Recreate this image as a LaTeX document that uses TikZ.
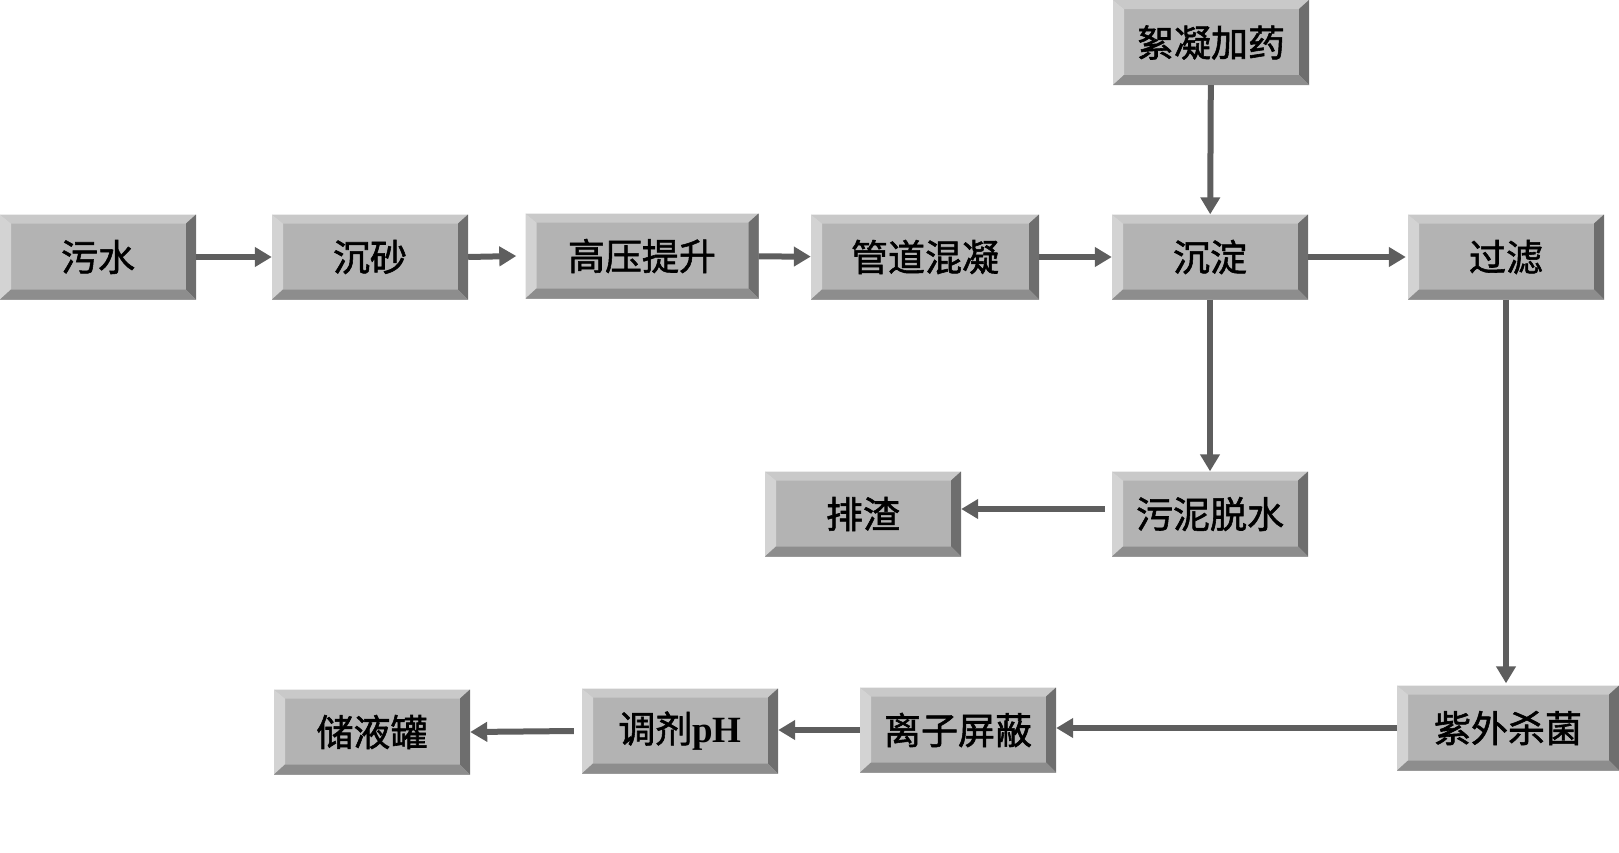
\documentclass[tikz,border=0pt]{standalone}
\usepackage{fontspec}
\usepackage{xcolor}
\usetikzlibrary{arrows.meta}
\newfontfamily\cjk{Noto Sans CJK SC}[FakeBold=1.5]
\newfontfamily\tnr{Liberation Serif}
\definecolor{faceGray}{HTML}{B3B3B3}
\definecolor{bevTop}{HTML}{C9C9C9}
\definecolor{bevLeft}{HTML}{D3D3D3}
\definecolor{bevRight}{HTML}{6E6E6E}
\definecolor{bevBottom}{HTML}{8D8D8D}
\definecolor{arrowGray}{HTML}{5E5E5E}

\begin{document}
\begin{tikzpicture}[x=1pt,y=-1pt]
        \tikzset{unit/.style={rectangle,
                    fill=faceGray,
                    minimum width=196pt,
                    minimum height=85pt,
                    inner sep=0pt,
                    align=center, font=\cjk\fontsize{37}{40}\selectfont,
                    path picture={
                      \coordinate (nw) at (path picture bounding box.north west);
                      \coordinate (ne) at (path picture bounding box.north east);
                      \coordinate (sw) at (path picture bounding box.south west);
                      \coordinate (se) at (path picture bounding box.south east);
                      \fill[bevTop] (nw) -- (ne) -- ([xshift=-10pt,yshift=-9pt]ne) -- ([xshift=11pt,yshift=-9pt]nw) -- cycle;
                      \fill[bevLeft] (nw) -- ([xshift=11pt,yshift=-9pt]nw) -- ([xshift=11pt,yshift=10pt]sw) -- (sw) -- cycle;
                      \fill[bevRight] (ne) -- (se) -- ([xshift=-10pt,yshift=10pt]se) -- ([xshift=-10pt,yshift=-9pt]ne) -- cycle;
                      \fill[bevBottom] (sw) -- (se) -- ([xshift=-10pt,yshift=10pt]se) -- ([xshift=11pt,yshift=10pt]sw) -- cycle;
                    }},
                flow/.style={draw=arrowGray, line width=6pt,
                    -{Triangle[length=17pt,width=19pt]}}}
        \useasboundingbox (0,0) rectangle (1619,852);
        % top row
        \node[unit] (wushui) at (98,257) {污水};
        \node[unit] (chensha) at (370,257) {沉砂};
        \node[unit, minimum width=233pt] (gaoya) at (642,256) {高压提升};
        \node[unit, minimum width=228pt] (guandao) at (925,257) {管道混凝};
        \node[unit] (chendian) at (1210,257) {沉淀};
        \node[unit] (guolv) at (1506,257) {过滤};
        \node[unit] (xuning) at (1211,42.5) {絮凝加药};
        % middle row
        \node[unit] (wuni) at (1210,514) {污泥脱水};
        \node[unit] (paizha) at (863,514) {排渣};
        % bottom row
        \node[unit, minimum width=222pt] (ziwai) at (1508,728) {紫外杀菌};
        \node[unit] (lizi) at (958,730) {离子屏蔽};
        \node[unit] (tiaoji) at (680,731) {调剂{\tnr\bfseries pH}};
        \node[unit] (chuye) at (372,732) {储液罐};
        % connectors
        \draw[flow] (wushui) -- (chensha);
        \draw[flow] (chensha.east) -- ([xshift=-9pt]gaoya.west);
        \draw[flow] (gaoya) -- (guandao);
        \draw[flow] (guandao) -- (chendian);
        \draw[flow] (chendian) -- ([xshift=-2pt]guolv.west);
        \draw[flow] (xuning) -- (chendian);
        \draw[flow] (chendian) -- (wuni);
        \draw[flow] ([xshift=-7pt,yshift=5pt]wuni.west) -- ([yshift=5pt]paizha.east);
        \draw[flow] (guolv.south) -- ([yshift=2pt]guolv.south |- ziwai.north);
        \draw[flow] (ziwai.west) -- (lizi.east |- ziwai.west);
        \draw[flow] (lizi.west) -- (tiaoji.east |- lizi.west);
        \draw[flow] ([xshift=-8pt]tiaoji.west) -- (chuye.east);
\end{tikzpicture}
\end{document}
